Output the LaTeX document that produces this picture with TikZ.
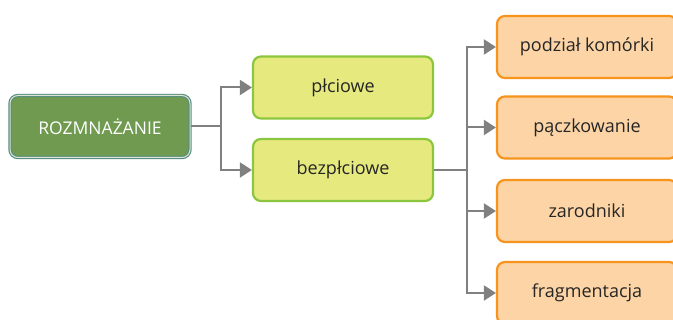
\documentclass[tikz,border=0pt]{standalone}
\usepackage{fontspec}
\setmainfont{Open Sans}
\usetikzlibrary{arrows.meta}
\definecolor{rootfill}{HTML}{6F9A50}
\definecolor{rootedge}{HTML}{5A8E80}
\definecolor{kindfill}{HTML}{E6EA7E}
\definecolor{kindedge}{HTML}{8CC63E}
\definecolor{waysfill}{HTML}{FCD4A6}
\definecolor{waysedge}{HTML}{F7941E}
\definecolor{linkgray}{HTML}{808080}
\tikzset{
  box/.style={rounded corners=8pt, minimum width=180pt, minimum height=62pt,
    inner sep=0pt, font=\fontsize{18}{21}\selectfont, text=black!85},
  rootbox/.style={box, fill=rootfill, draw=rootedge, line width=1.2pt,
    double=white!75!rootfill, double distance=1pt, text=white,
    font=\fontsize{17.5}{21}\selectfont},
  kindbox/.style={box, fill=kindfill, draw=kindedge, line width=2.2pt},
  waysbox/.style={box, fill=waysfill, draw=waysedge, line width=2.2pt},
  trunk/.style={draw=linkgray, line width=2pt},
  link/.style={trunk, -{Triangle[length=12pt 0,width=15pt 0]}},
}
\begin{document}
\begin{tikzpicture}[x=1pt,y=-1pt]
  \useasboundingbox[fill=white] (0,0) rectangle (673,320);

  \node[rootbox] (root) at (100,126.5) {ROZMNAŻANIE};

  \node[kindbox] (sex)  at (343,87.5) {płciowe};
  \node[kindbox] (asex) at (343,170)  {bezpłciowe};

  \node[waysbox] (div)  at (587,47)    {podział komórki};
  \node[waysbox] (bud)  at (587,127.5) {pączkowanie};
  \node[waysbox] (spor) at (587,211)   {zarodniki};
  \node[waysbox] (frag) at (587,293)   {fragmentacja};

  % first branching
  \draw[trunk] (root.east) -- ++(30,0) coordinate (j1);
  \draw[link] (j1) |- (sex.west);
  \draw[link] (j1) |- (asex.west);

  % second branching
  \draw[trunk] (asex.east) -- ++(33,0) coordinate (j2);
  \draw[link] (j2) |- (div.west);
  \draw[link] (j2) |- (bud.west);
  \draw[link] (j2) |- (spor.west);
  \draw[link] (j2) |- (frag.west);
\end{tikzpicture}
\end{document}
